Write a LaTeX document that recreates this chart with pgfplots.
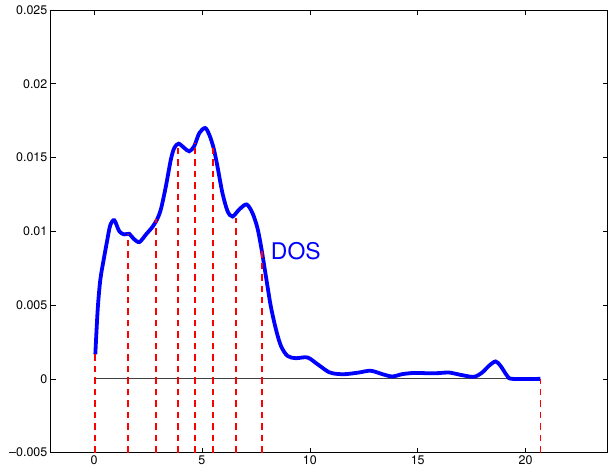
\documentclass[border=0pt]{standalone}
\usepackage{pgfplots}
\pgfplotsset{compat=1.18}
\usepackage{fontspec}
\setmainfont{TeX Gyre Heros}

\begin{document}
\begin{tikzpicture}
\begin{axis}[
    scale only axis,
    width=558pt, height=443.7pt,
    xmin=-2, xmax=23.8,
    ymin=-0.005, ymax=0.025,
    xtick={0,5,10,15,20},
    xticklabels={0,5,10,15,20},
    ytick={-0.005,0,0.005,0.01,0.015,0.02,0.025},
    yticklabels={--0.005,0,0.005,0.01,0.015,0.02,0.025},
    scaled y ticks=false,
    tick align=inside,
    major tick length=5pt,
    tick style={black, line width=0.5pt},
    axis line style={line width=0.9pt},
    ticklabel style={font=\fontsize{12.5}{14}\selectfont},
    clip=false,
]
% zero line
\addplot[black!75, line width=0.8pt] coordinates {(0,0) (20.69,0)};
% density of states curve
\addplot[blue, line width=3.8pt, smooth] coordinates {
    (0.06,0.00167) (0.17,0.0047) (0.29,0.0067) (0.45,0.0081) (0.6,0.0093)
    (0.75,0.0104) (0.94,0.01075) (1.17,0.0100) (1.40,0.00979) (1.63,0.00983)
    (1.83,0.0095) (2.10,0.00927) (2.41,0.00979) (2.71,0.0103) (2.92,0.0108)
    (3.10,0.0115) (3.33,0.01305) (3.56,0.01486) (3.72,0.01565) (3.92,0.01594)
    (4.18,0.01565) (4.41,0.01542) (4.64,0.01576) (4.88,0.01666) (5.15,0.0170)
    (5.34,0.01655) (5.54,0.01565) (5.72,0.0144) (5.95,0.0126) (6.19,0.01136)
    (6.42,0.0110) (6.73,0.01148) (7.07,0.01182) (7.34,0.01125) (7.57,0.01024)
    (7.75,0.0089) (7.96,0.0070) (8.19,0.00494) (8.43,0.00336) (8.66,0.00224)
    (8.96,0.00156) (9.35,0.00140) (9.89,0.00145) (10.35,0.0010) (10.89,0.00045)
    (11.3,0.00033) (11.67,0.00032) (12.28,0.00043) (12.82,0.00055) (13.36,0.00032)
    (13.82,0.00016) (14.29,0.00032) (14.83,0.00040) (15.5,0.00038) (16.0,0.00039)
    (16.45,0.00043) (17.06,0.00025) (17.61,0.00014) (17.99,0.00043) (18.30,0.00088)
    (18.61,0.00118) (18.84,0.00088) (19.15,0.0002) (19.38,0.0) (20.69,0.0)
};
% sample points
\addplot[red, line width=1.9pt, dash pattern=on 6.5pt off 5pt, unbounded coords=jump] coordinates {
    (0.06,-0.005) (0.06,0.00167) (nan,nan)
    (1.56,-0.005) (1.56,0.0098) (nan,nan)
    (2.88,-0.005) (2.88,0.0108) (nan,nan)
    (3.90,-0.005) (3.90,0.0159) (nan,nan)
    (4.70,-0.005) (4.70,0.0160) (nan,nan)
    (5.51,-0.005) (5.51,0.0157) (nan,nan)
    (6.59,-0.005) (6.59,0.0109) (nan,nan)
    (7.78,-0.005) (7.78,0.0087) (nan,nan)
    (20.69,-0.005) (20.69,0)
};
\node[anchor=base west, inner sep=0pt, text=blue, font=\fontsize{23}{26}\selectfont] at (axis cs:8.19,0.0081) {DOS};
\end{axis}
\path (current axis.north west) ++(-51pt,10pt);
\path (current axis.south west) ++(-51pt,0pt);
\end{tikzpicture}
\end{document}
